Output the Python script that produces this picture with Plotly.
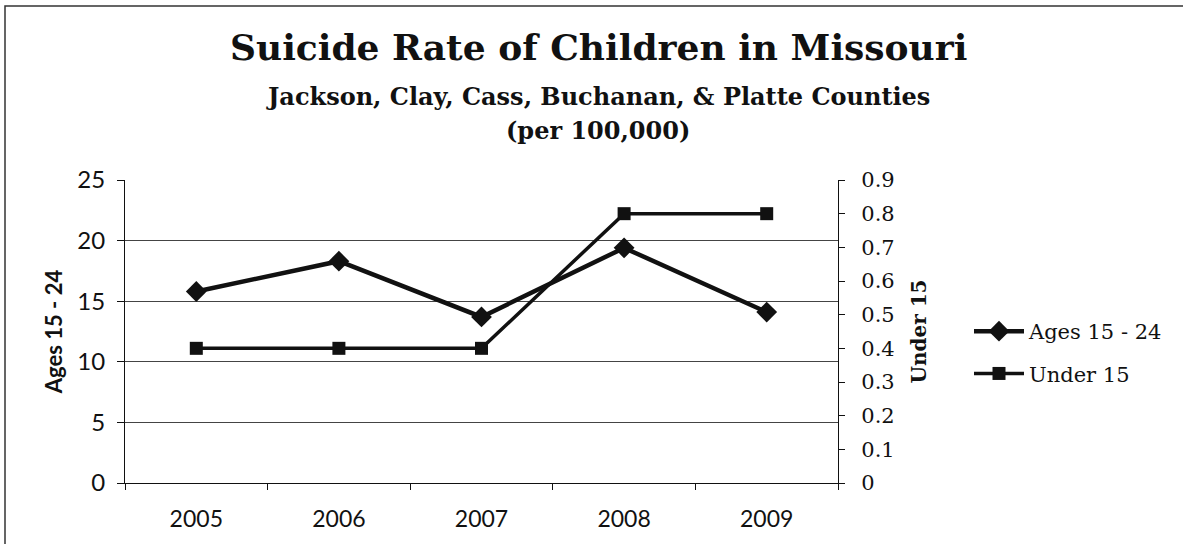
import plotly.graph_objects as go

# Suicide rates per 100,000, five western Missouri counties
years = ["2005", "2006", "2007", "2008", "2009"]
ages_15_24 = [15.8, 18.3, 13.7, 19.4, 14.1]
under_15 = [0.4, 0.4, 0.4, 0.8, 0.8]

left_ticks = [0, 5, 10, 15, 20, 25]
right_ticks = [0, 0.1, 0.2, 0.3, 0.4, 0.5, 0.6, 0.7, 0.8, 0.9]
right_tick_text = ["0", "0.1", "0.2", "0.3", "0.4", "0.5", "0.6", "0.7", "0.8", "0.9"]

SERIF = "DejaVu Serif"
SANS = "Lato"
INK = "#111111"

fig = go.Figure()

fig.add_trace(go.Scatter(
    x=years, y=ages_15_24, name="Ages 15 - 24", mode="lines+markers",
    line=dict(color=INK, width=4.5),
    marker=dict(symbol="diamond", size=16, color=INK),
    legendgroup="a", yaxis="y",
))
fig.add_trace(go.Scatter(
    x=years, y=under_15, name="Under 15", mode="lines+markers",
    line=dict(color=INK, width=3.5),
    marker=dict(symbol="square", size=13, color=INK),
    legendgroup="b", yaxis="y2",
))

W, H = 1183, 544
L, R, T, B = 125, 838, 180, 483
pw, ph = R - L, B - T


def px_x(x):
    return (x - L) / pw


def px_y(y):
    return (B - y) / ph


fig.update_layout(
    width=W, height=H,
    margin=dict(l=L, r=W - R, t=T, b=H - B, pad=0),
    paper_bgcolor="white", plot_bgcolor="white",
    showlegend=True,
    legend=dict(
        x=px_x(969), y=px_y(311), xanchor="left", yanchor="top",
        font=dict(family=SERIF, size=21, color=INK),
        traceorder="grouped", tracegroupgap=12,
        bgcolor="rgba(0,0,0,0)", itemwidth=50,
    ),
    xaxis=dict(
        type="category", categoryorder="array", categoryarray=years,
        range=[-0.5, 4.5], showgrid=False, zeroline=False,
        showline=True, linecolor=INK, linewidth=1.2,
        ticks="outside", ticklen=6, tickcolor=INK, tickson="boundaries",
        ticklabelstandoff=15,
        tickfont=dict(family=SANS, size=23, color=INK),
    ),
    yaxis=dict(
        range=[0, 25], tickvals=left_ticks, showgrid=True,
        gridcolor="#444444", gridwidth=1.1, zeroline=False,
        showline=True, linecolor=INK, linewidth=1.2,
        ticks="outside", ticklen=7, tickcolor=INK, ticklabelstandoff=7,
        tickfont=dict(family=SANS, size=24, color=INK),
        title=dict(text="<b>Ages 15 - 24</b>", standoff=8,
                   font=dict(family=SANS, size=22, color=INK)),
    ),
    yaxis2=dict(
        range=[0, 0.9], tickvals=right_ticks, ticktext=right_tick_text,
        overlaying="y", side="right", showgrid=False, zeroline=False,
        showline=True, linecolor=INK, linewidth=1.2,
        ticks="outside", ticklen=6, tickcolor=INK, ticklabelstandoff=12,
        tickfont=dict(family=SERIF, size=21, color=INK),
        title=dict(text="<b>Under 15</b>", standoff=18,
                   font=dict(family=SERIF, size=20, color=INK)),
    ),
)

# Chart title block
title_x = px_x(598)
fig.add_annotation(text="<b>Suicide Rate of Children in Missouri</b>",
                   xref="paper", yref="paper", x=title_x, y=px_y(47),
                   showarrow=False, xanchor="center", yanchor="middle",
                   font=dict(family=SERIF, size=36, color=INK))
fig.add_annotation(text="<b>Jackson, Clay, Cass, Buchanan, &amp; Platte Counties</b>",
                   xref="paper", yref="paper", x=title_x, y=px_y(97),
                   showarrow=False, xanchor="center", yanchor="middle",
                   font=dict(family=SERIF, size=24, color=INK))
fig.add_annotation(text="<b>(per 100,000)</b>",
                   xref="paper", yref="paper", x=title_x, y=px_y(131),
                   showarrow=False, xanchor="center", yanchor="middle",
                   font=dict(family=SERIF, size=24, color=INK))

# Chart-area border: left and top edges (the rest runs off the page)
x_left, x_right = px_x(5), px_x(1183)
y_top, y_bottom = px_y(6), px_y(544)
fig.add_shape(type="path", xref="paper", yref="paper",
              path=f"M {x_left},{y_bottom} L {x_left},{y_top} L {x_right},{y_top}",
              line=dict(color="#333333", width=1.5), layer="below")

fig.write_html("out.html")
